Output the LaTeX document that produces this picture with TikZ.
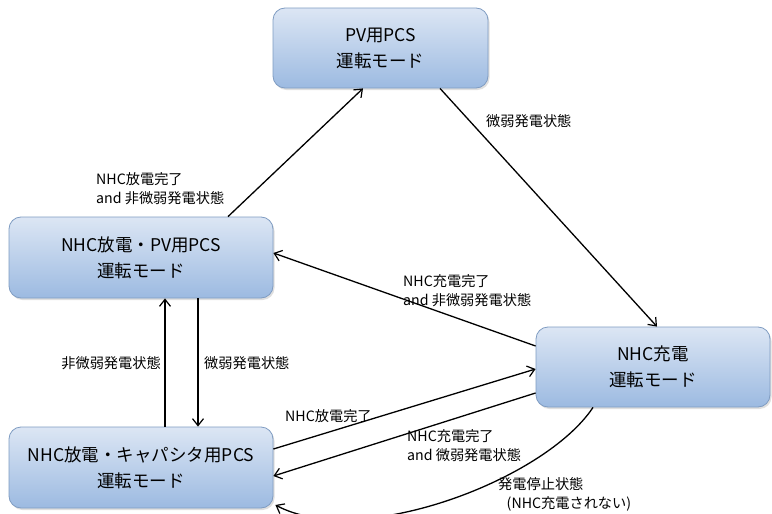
\documentclass[tikz,border=0pt]{standalone}
\usepackage{fontspec}
\setmainfont{Noto Sans CJK JP}
\usetikzlibrary{arrows.meta,shadows}
\begin{document}
\begin{tikzpicture}[x=1pt,y=-1pt,
  modebox/.style={draw=boxline, line width=0.8pt, rounded corners=12pt,
    top color=boxtop, bottom color=boxbot, align=center, inner sep=0pt,
    font=\fontsize{17.5}{26}\selectfont,
    drop shadow={opacity=0.25, shadow xshift=1.5pt, shadow yshift=-2pt}},
  lbl/.style={align=left, inner sep=0pt, font=\fontsize{14.2}{19}\selectfont},
  conn/.style={line width=1.3pt, -{Straight Barb[length=7pt,width=11pt,line width=1.2pt]}}]
\definecolor{boxtop}{HTML}{DCE6F4}
\definecolor{boxbot}{HTML}{9CBAE1}
\definecolor{boxline}{HTML}{7F9CC2}
\useasboundingbox[fill=white] (0,0) rectangle (772,514);

\node[modebox, minimum width=215pt, minimum height=80pt] (pv) at (380.5,48) {PV用PCS\\運転モード};
\node[modebox, minimum width=264pt, minimum height=81pt] (pvd) at (141,257.5) {NHC放電・PV用PCS\\運転モード};
\node[modebox, minimum width=264pt, minimum height=81pt] (cap) at (141,467.5) {NHC放電・キャパシタ用PCS\\運転モード};
\node[modebox, minimum width=234pt, minimum height=80pt] (chg) at (653,367) {NHC充電\\運転モード};

\draw[conn] ([xshift=87pt]pvd.north) -- ([xshift=-17.5pt]pv.south);
\draw[conn] ([xshift=59.5pt]pv.south) -- ([xshift=4pt]chg.north);
\draw[conn] ([yshift=21pt]chg.west) -- ([yshift=4.5pt]pvd.east);
\draw[conn] ([xshift=24pt]cap.north) -- ([xshift=24pt]pvd.south);
\draw[conn] ([xshift=57pt]pvd.south) -- ([xshift=57pt]cap.north);
\draw[conn] ([yshift=18.5pt]cap.east) -- ([yshift=-2pt]chg.west);
\draw[conn] ([yshift=-26pt]chg.west) -- ([yshift=-8.5pt]cap.east);
\draw[conn] ([xshift=-60pt]chg.south) .. controls (545,480) and (360,550) .. ([xshift=2pt,yshift=-37.5pt]cap.east);

\node[lbl, anchor=west] (l1) at (96,189) {NHC放電完了\\and 非微弱発電状態};
\node[lbl, anchor=west] (l2) at (486,121) {微弱発電状態};
\node[lbl, anchor=west] (l3) at (403,291) {NHC充電完了\\and 非微弱発電状態};
\node[lbl, anchor=east] (l4) at (161,363) {非微弱発電状態};
\node[lbl, anchor=west] (l5) at (204,363) {微弱発電状態};
\node[lbl, anchor=west] (l6) at (285,416) {NHC放電完了};
\node[lbl, anchor=west] (l7) at (407,446) {NHC充電完了\\and 微弱発電状態};
\node[lbl, anchor=west] (l8) at (498,494) {発電停止状態\\\hspace*{0.6em}(NHC充電されない)};
\end{tikzpicture}
\end{document}
